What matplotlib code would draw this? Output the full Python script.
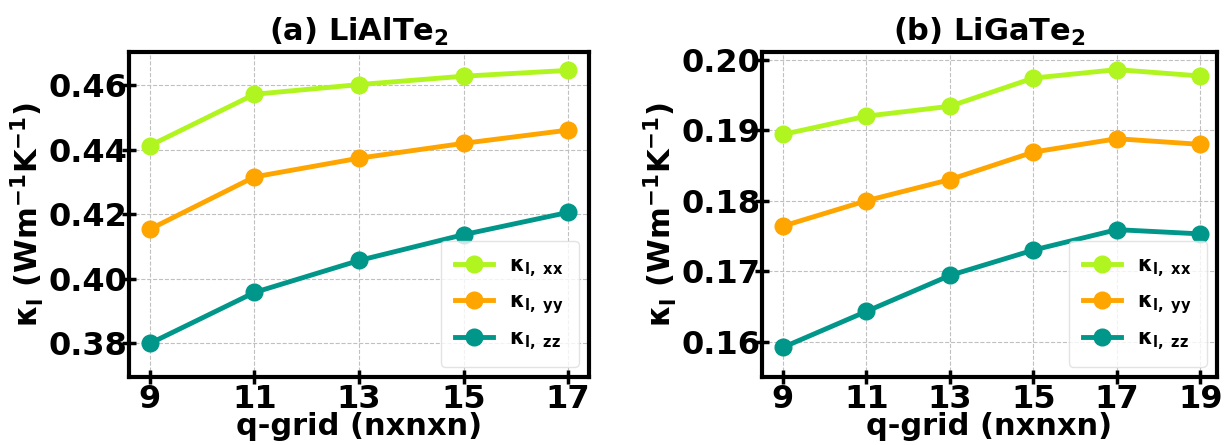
import matplotlib.pyplot as plt

plt.rcParams['font.family'] = 'DejaVu Sans'
plt.rcParams['font.weight'] = 'bold'
plt.rcParams['mathtext.fontset'] = 'dejavusans'
plt.rcParams['mathtext.default'] = 'bf'

# (a) LiAlTe2
q_a = [9, 11, 13, 15, 17]
xx_a = [0.4413, 0.4572, 0.4602, 0.4628, 0.4646]
yy_a = [0.4154, 0.4316, 0.4374, 0.4420, 0.4461]
zz_a = [0.3800, 0.3958, 0.4057, 0.4137, 0.4206]

# (b) LiGaTe2
q_b = [9, 11, 13, 15, 17, 19]
xx_b = [0.1894, 0.1920, 0.1934, 0.1974, 0.1986, 0.1977]
yy_b = [0.1764, 0.1800, 0.1830, 0.1869, 0.1888, 0.1880]
zz_b = [0.1592, 0.1643, 0.1694, 0.1730, 0.1759, 0.1753]

labels = ['κ$_{l,\\ xx}$', 'κ$_{l,\\ yy}$', 'κ$_{l,\\ zz}$']
colors = ['#B0F520', '#FFA500', '#00968A']

fig = plt.figure(figsize=(12.25, 4.45), dpi=100)
ax1 = fig.add_axes([129/1225, 68/445, 460/1225, 325/445])
ax2 = fig.add_axes([762/1225, 68/445, 455/1225, 325/445])

panels = [
    (ax1, q_a, [xx_a, yy_a, zz_a], '(a) LiAlTe$_2$', (0.3696, 0.4703), [0.38, 0.40, 0.42, 0.44, 0.46]),
    (ax2, q_b, [xx_b, yy_b, zz_b], '(b) LiGaTe$_2$', (0.155, 0.2011), [0.16, 0.17, 0.18, 0.19, 0.20]),
]

for ax, q, series, title, ylim, yt in panels:
    for vals, lab, c in zip(series, labels, colors):
        ax.plot(q, vals, '-o', color=c, lw=3.5, ms=12, label=lab)
    ax.set_xticks(q)
    ax.set_xticklabels([str(v) for v in q])
    ax.set_yticks(yt)
    ax.set_yticklabels(['%.2f' % v for v in yt])
    ax.set_ylim(ylim)
    ax.grid(True, ls='--', lw=0.8, color='#c0c0c0')
    ax.tick_params(direction='inout', length=10, width=2.5, labelsize=23, pad=0)
    ax.tick_params(axis='y', pad=-4)
    for s in ax.spines.values():
        s.set_linewidth(3)
    ax.set_title(title, fontsize=22, fontweight='bold', pad=8)
    ax.set_xlabel('q-grid (nxnxn)', fontsize=22, fontweight='bold', labelpad=-2)
    ax.set_ylabel('κ$_l$ (Wm$^{-1}$K$^{-1}$)', fontsize=22, fontweight='bold', labelpad=2)
    ax.legend(loc='lower right', handlelength=1.8, labelspacing=0.6,
              borderpad=0.7, edgecolor='#dddddd',
              prop={'weight': 'bold', 'size': 15})

ax1.set_xlim(8.6, 17.4)
ax2.set_xlim(8.5, 19.4)

fig.savefig('out.png', dpi=100)
